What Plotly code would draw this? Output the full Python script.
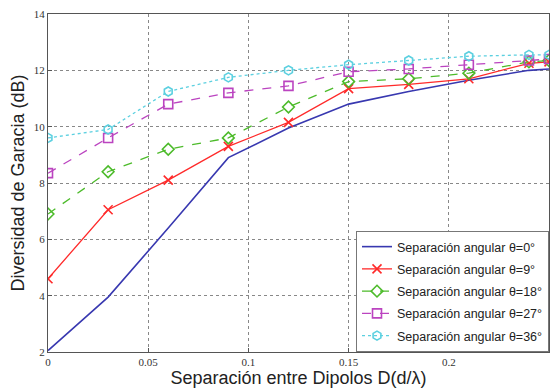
import plotly.graph_objects as go

x = [0, 0.03, 0.06, 0.09, 0.12, 0.15, 0.18, 0.21, 0.24, 0.25]
theta0 = [2.05, 3.95, 6.4, 8.9, 9.95, 10.8, 11.25, 11.65, 12.0, 12.05]
theta9 = [4.6, 7.05, 8.1, 9.3, 10.15, 11.35, 11.5, 11.7, 12.25, 12.3]
theta18 = [6.9, 8.4, 9.2, 9.6, 10.7, 11.6, 11.7, 11.9, 12.3, 12.35]
theta27 = [8.35, 9.6, 10.8, 11.2, 11.45, 11.95, 12.05, 12.2, 12.35, 12.4]
theta36 = [9.6, 9.9, 11.25, 11.75, 12.0, 12.2, 12.35, 12.5, 12.55, 12.55]
names = ["Separación angular θ=0°", "Separación angular θ=9°", "Separación angular θ=18°",
         "Separación angular θ=27°", "Separación angular θ=36°"]
xticks = [0, 0.05, 0.1, 0.15, 0.2, 0.25]
xticklabels = ["0", "0.05", "0.1", "0.15", "0.2", "0.25"]
yticks = [2, 4, 6, 8, 10, 12, 14]

series = [theta0, theta9, theta18, theta27, theta36]
colors = ["#3838b0", "#ff2a2a", "#4cbb2a", "#bb44c0", "#5cd0e0"]
dashes = ["solid", "solid", "dash", "dash", "dot"]
symbols = [None, "x-thin-open", "diamond-open", "square-open", "hexagon-open"]

fig = go.Figure()
for i, (ys, nm, c, d, s) in enumerate(zip(series, names, colors, dashes, symbols)):
    if s is None:
        fig.add_trace(go.Scatter(x=x, y=ys, name=nm, mode="lines", legendgroup=f"g{i}",
                                 line=dict(color=c, width=1.6, dash=d)))
    else:
        fig.add_trace(go.Scatter(x=x, y=ys, name=nm, mode="lines+markers", legendgroup=f"g{i}",
                                 line=dict(color=c, width=1.3, dash=d),
                                 marker=dict(symbol=s, size=9, color=c,
                                             line=dict(color=c, width=1.6))))

axis_common = dict(showline=True, linecolor="#555", linewidth=1, mirror=True,
                   ticks="inside", ticklen=4, tickcolor="#555",
                   showgrid=True, gridcolor="#888", griddash="dot", gridwidth=1,
                   zeroline=False,
                   tickfont=dict(family="Liberation Serif", size=11, color="#333"))

fig.update_layout(
    width=558, height=392,
    margin=dict(l=48, r=8, t=12, b=40),
    paper_bgcolor="white", plot_bgcolor="white",
    xaxis=dict(range=[0, 0.25], tickvals=xticks, ticktext=xticklabels,
               title=dict(text="Separación entre Dipolos D(d/λ)", standoff=1,
                          font=dict(family="Liberation Sans", size=18, color="#222")),
               **axis_common),
    yaxis=dict(range=[2, 14], tickvals=yticks,
               title=dict(text="Diversidad de Garacia (dB)", standoff=4,
                          font=dict(family="Liberation Sans", size=18, color="#222")),
               **axis_common),
    legend=dict(x=1, y=0, xanchor="right", yanchor="bottom",
                bgcolor="white", bordercolor="#777", borderwidth=1,
                font=dict(family="Liberation Sans", size=12.5, color="#222"),
                itemwidth=30, tracegroupgap=3),
    showlegend=True,
)

fig.write_html("out.html")
